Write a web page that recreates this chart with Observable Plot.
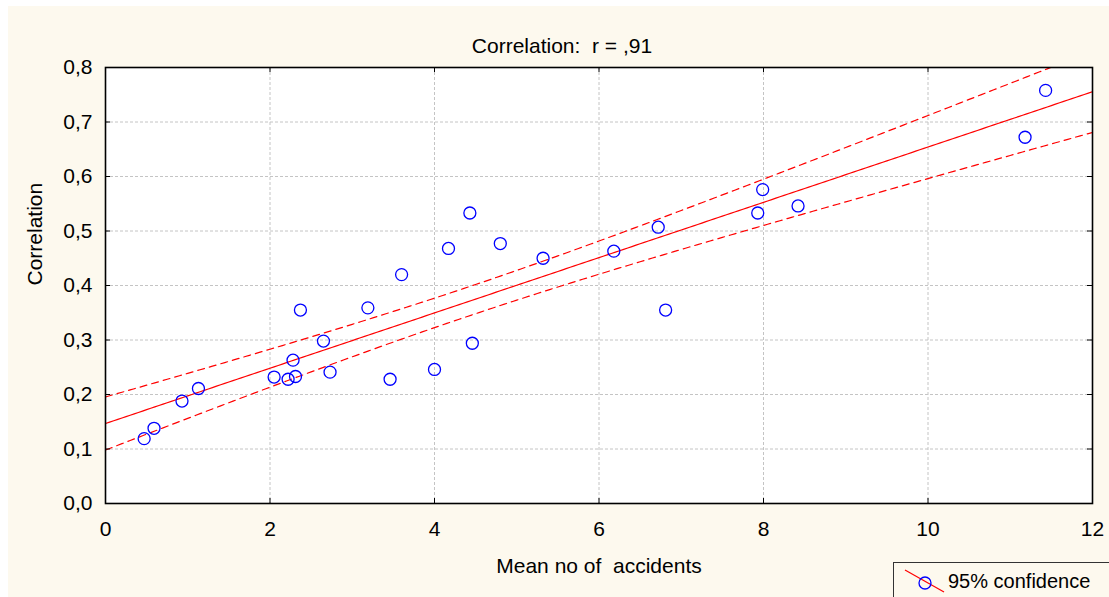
<!DOCTYPE html>
<html>
<head>
<meta charset="utf-8">
<script src="https://cdn.jsdelivr.net/npm/d3@7"></script>
<script src="https://cdn.jsdelivr.net/npm/@observablehq/plot@0.6"></script>
<style>
  html, body { margin: 0; padding: 0; background: #ffffff; overflow: hidden; width: 1109px; height: 597px; }
  #wrap { position: absolute; left: 8px; top: 6px; width: 1101px; height: 591px; background: #fdf9ee; }
  #legend { position: absolute; left: 893px; top: 562px; width: 240px; height: 50px; border: 1px solid #333; box-sizing: border-box;
    font-family: "Liberation Sans", Arial, sans-serif; font-size: 20px; color: #000; background: #fdf9ee; }
  #legend svg { position: absolute; left: 0; top: 0; }
  #legend span { position: absolute; left: 54px; top: 7px; white-space: nowrap; }
</style>
</head>
<body>
<div id="wrap"></div>
<div id="legend">
  <svg width="60" height="40">
    <line x1="11" y1="7" x2="50" y2="29" stroke="#ff0000" stroke-width="1.2"></line>
    <circle cx="31" cy="20" r="6" fill="none" stroke="#0000ff" stroke-width="1.3"></circle>
  </svg>
  <span id="legendText"></span>
</div>
<script>
// ---- data ----
const meanAccidents = [0.47, 0.59, 0.93, 1.13, 2.05, 2.22, 2.28, 2.31, 2.37, 2.65, 2.73, 3.19, 3.46, 3.60,
  4.00, 4.17, 4.43, 4.46, 4.80, 5.32, 6.18, 6.72, 6.81, 7.93, 7.99, 8.42, 11.18, 11.43];
const correlation = [0.119, 0.138, 0.188, 0.211, 0.232, 0.228, 0.263, 0.233, 0.355, 0.298, 0.241, 0.359, 0.228, 0.420,
  0.246, 0.468, 0.533, 0.294, 0.477, 0.450, 0.463, 0.507, 0.355, 0.533, 0.576, 0.546, 0.672, 0.758];
const xTicks = [0, 2, 4, 6, 8, 10, 12];
const yTicks = [0, 0.1, 0.2, 0.3, 0.4, 0.5, 0.6, 0.7, 0.8];
const xGrid = [2, 4, 6, 8, 10];
const yGrid = [0.1, 0.2, 0.3, 0.4, 0.5, 0.6, 0.7];
const titleText = "Correlation:  r = ,91";
const xLabel = "Mean no of  accidents";
const yLabel = "Correlation";
const legendLabel = "95% confidence";
const tCrit = 2.056; // t(0.975, df = n - 2 = 26)

// ---- regression fit and 95% confidence band computed from the points ----
const points = meanAccidents.map((x, i) => ({x, y: correlation[i]}));
const n = points.length;
const mx = d3.mean(meanAccidents), my = d3.mean(correlation);
const sxx = d3.sum(meanAccidents, x => (x - mx) ** 2);
const sxy = d3.sum(points, p => (p.x - mx) * (p.y - my));
const slope = sxy / sxx, intercept = my - slope * mx;
const sse = d3.sum(points, p => (p.y - (intercept + slope * p.x)) ** 2);
const s = Math.sqrt(sse / (n - 2));
const band = d3.range(0, 12.0001, 0.05).map(x => {
  const fit = intercept + slope * x;
  const h = tCrit * s * Math.sqrt(1 / n + (x - mx) ** 2 / sxx);
  return {x, fit, lo: fit - h, hi: fit + h};
});

const plotW = 1101 - 97 - 17, plotH = 591 - 61 - 94;
const fmtY = d => d.toFixed(1).replace(".", ",");

const chart = Plot.plot({
  width: 1101, height: 591,
  marginLeft: 97, marginRight: 17, marginTop: 61, marginBottom: 94,
  style: {background: "transparent", fontFamily: "'Liberation Sans', Arial, sans-serif", fontSize: "21px", color: "#000"},
  x: {domain: [0, 12]},
  y: {domain: [0, 0.8]},
  marks: [
    Plot.frame({fill: "#ffffff", stroke: null}),
    Plot.ruleX(xGrid, {stroke: "#c4c4c4", strokeDasharray: "3,2"}),
    Plot.ruleY(yGrid, {stroke: "#c4c4c4", strokeDasharray: "3,2"}),
    Plot.line(band, {x: "x", y: "lo", stroke: "#ff0000", strokeWidth: 1.2, strokeDasharray: "7,5", clip: true}),
    Plot.line(band, {x: "x", y: "hi", stroke: "#ff0000", strokeWidth: 1.2, strokeDasharray: "7,5", clip: true}),
    Plot.line(band, {x: "x", y: "fit", stroke: "#ff0000", strokeWidth: 1.2, clip: true}),
    Plot.dot(points, {x: "x", y: "y", r: 6, stroke: "#0000ff", strokeWidth: 1.3}),
    Plot.ruleX(xTicks, {stroke: "#000", insetTop: plotH - 5}),
    Plot.ruleX(xTicks, {stroke: "#000", insetBottom: plotH - 5}),
    Plot.ruleY(yTicks, {stroke: "#000", insetRight: plotW - 5}),
    Plot.ruleY(yTicks, {stroke: "#000", insetLeft: plotW - 5}),
    Plot.frame({stroke: "#000", strokeWidth: 1.6}),
    Plot.axisX({ticks: xTicks, tickSize: 0, tickPadding: 18, tickFormat: d => String(d), label: null}),
    Plot.axisY({ticks: yTicks, tickSize: 0, tickPadding: 13, tickFormat: fmtY, label: null}),
    Plot.text([titleText], {text: d => d, frameAnchor: "top", dy: -29, dx: -37}),
    Plot.text([xLabel], {text: d => d, frameAnchor: "bottom", dy: 69}),
    Plot.text([yLabel], {text: d => d, frameAnchor: "left", rotate: -90, dx: -70})
  ]
});
document.getElementById("wrap").appendChild(chart);
document.getElementById("legendText").textContent = legendLabel;
</script>
</body>
</html>
